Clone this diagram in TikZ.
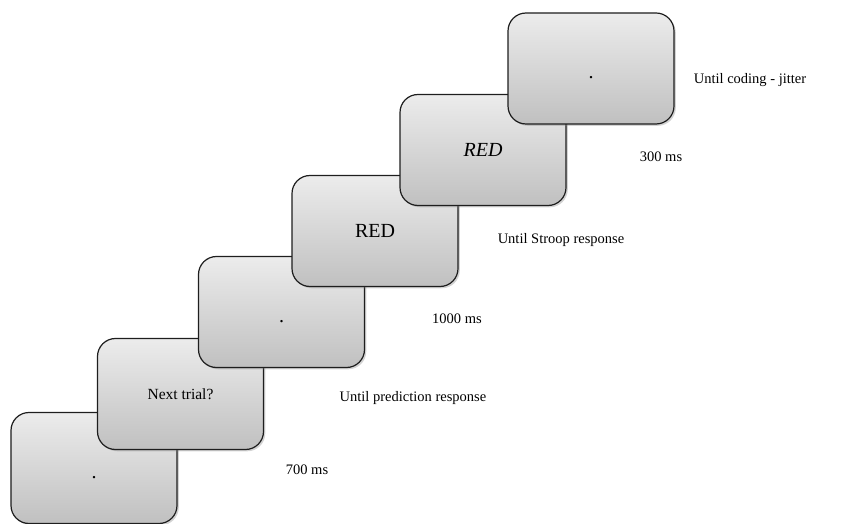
\documentclass[tikz,border=0pt]{standalone}
\usepackage{fontspec}
\setmainfont{Liberation Serif}
\usetikzlibrary{shadows}
\definecolor{ink}{RGB}{30,30,30}
\definecolor{shadeTop}{RGB}{236,236,236}
\definecolor{shadeBot}{RGB}{192,192,192}
\tikzset{
  slide/.style={draw=ink,line width=1.2bp,rounded corners=18bp,
    top color=shadeTop,bottom color=shadeBot,
    minimum width=166bp,minimum height=111bp,inner sep=0pt,
    drop shadow={shadow xshift=1.8bp,shadow yshift=-1.8bp,opacity=0.35},
    font=\fontsize{20bp}{22bp}\selectfont},
  fix/.style={text height=20bp,text depth=0pt},
  small/.style={font=\fontsize{15.5bp}{17bp}\selectfont},
  lbl/.style={inner sep=0pt,font=\fontsize{14.5bp}{16bp}\selectfont},
}
\begin{document}
\begin{tikzpicture}[x=1bp,y=-1bp]
  \useasboundingbox (0,0) rectangle (856,524);
  % screens, back to front
  \node[slide,fix] (s1) at (94,468) {.};
  \node[slide,small] (s2) at (180.5,394) {Next trial?};
  \node[slide,fix] (s3) at (281.5,312) {.};
  \node[slide] (s4) at (375,231) {RED};
  \node[slide] (s5) at (483,150) {\textit{RED}};
  \node[slide,fix] (s6) at (591,68.5) {.};
  % durations
  \node[lbl] (l700) at (307,470) {700 ms};
  \node[lbl] (lpred) at (413,398) {Until prediction response};
  \node[lbl] (l1000) at (457,319) {1000 ms};
  \node[lbl] (lstroop) at (561,240) {Until Stroop response};
  \node[lbl] (l300) at (661,157) {300 ms};
  \node[lbl] (ljitter) at (750,80) {Until coding - jitter};
\end{tikzpicture}
\end{document}
